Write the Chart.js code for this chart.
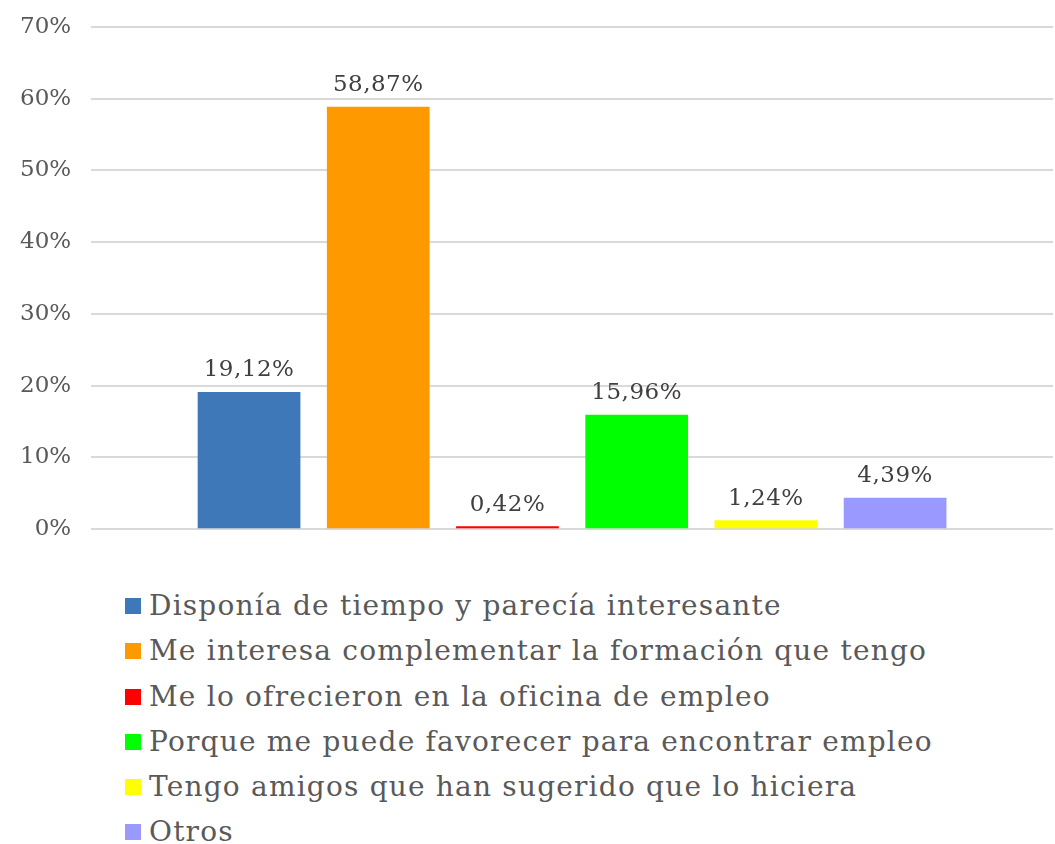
<!DOCTYPE html>
<html lang="es">
<head>
  <meta charset="UTF-8" />
  <title>Motivos</title>
  <script src="https://cdn.jsdelivr.net/npm/chart.js@4.4.0/dist/chart.umd.min.js"></script>
  <style>
    body { margin: 0; background: #fff; overflow: hidden; }
    #wrap { position: relative; width: 1055px; height: 844px; overflow: hidden; }
    #chartBox { position: absolute; left: 0; top: -7px; width: 1055px; height: 570px; }
    #legend {
      position: absolute; left: 125px; top: 583px;
      font-family: "DejaVu Serif", serif; font-size: 28px; letter-spacing: 1.2px; color: #595959;
      list-style: none; margin: 0; padding: 0;
    }
    #legend li { height: 45.3px; line-height: 45px; white-space: nowrap; }
    #legend .box { display: inline-block; width: 16px; height: 16px; margin-right: 8px; vertical-align: 1px; }
  </style>
</head>
<body>
  <div id="wrap">
    <div id="chartBox"><canvas id="chart"></canvas></div>
    <ul id="legend"></ul>
  </div>
  <script>
    const labels = [
      'Disponía de tiempo y parecía interesante',
      'Me interesa complementar la formación que tengo',
      'Me lo ofrecieron en la oficina de empleo',
      'Porque me puede favorecer para encontrar empleo',
      'Tengo amigos que han sugerido que lo hiciera',
      'Otros'
    ];
    const values = [19.12, 58.87, 0.42, 15.96, 1.24, 4.39];
    const colors = ['#3f78b8', '#ff9900', '#ff0000', '#00ff00', '#ffff00', '#9999ff'];
    const yTicks = [0, 10, 20, 30, 40, 50, 60, 70];

    const fmt = v => v.toFixed(2).replace('.', ',') + '%';

    const valueLabels = {
      id: 'valueLabels',
      afterDatasetsDraw(chart) {
        const ctx = chart.ctx;
        ctx.save();
        ctx.font = '23px "DejaVu Serif", serif';
        ctx.letterSpacing = '0.5px';
        ctx.fillStyle = '#404040';
        ctx.textAlign = 'center';
        ctx.textBaseline = 'bottom';
        chart.data.datasets.forEach((ds, i) => {
          const bar = chart.getDatasetMeta(i).data[0];
          ctx.fillText(fmt(ds.data[0]), bar.x, bar.y - 10);
        });
        ctx.restore();
      }
    };

    new Chart(document.getElementById('chart'), {
      type: 'bar',
      data: {
        labels: [''],
        datasets: labels.map((l, i) => ({
          label: l,
          data: [values[i]],
          backgroundColor: colors[i],
          categoryPercentage: 0.806,
          barPercentage: 0.795
        }))
      },
      options: {
        responsive: true,
        maintainAspectRatio: false,
        animation: false,
        layout: { padding: { top: 0, right: 2, left: 0, bottom: 14 } },
        plugins: { legend: { display: false }, tooltip: { enabled: false } },
        scales: {
          x: {
            grid: { display: false },
            border: { display: false },
            ticks: { display: false }
          },
          y: {
            min: 0, max: 70,
            afterBuildTicks: axis => { axis.ticks = yTicks.map(v => ({ value: v })); },
            grid: { color: '#d9d9d9', lineWidth: 2, drawTicks: false },
            border: { display: false },
            ticks: {
              padding: 20,
              color: '#595959',
              font: { family: '"DejaVu Serif", serif', size: 23 },
              callback: v => v + '%'
            }
          }
        }
      },
      plugins: [valueLabels]
    });

    const legend = document.getElementById('legend');
    labels.forEach((l, i) => {
      const li = document.createElement('li');
      const box = document.createElement('span');
      box.className = 'box';
      box.style.background = colors[i];
      li.appendChild(box);
      li.appendChild(document.createTextNode(l));
      legend.appendChild(li);
    });
  </script>
</body>
</html>
